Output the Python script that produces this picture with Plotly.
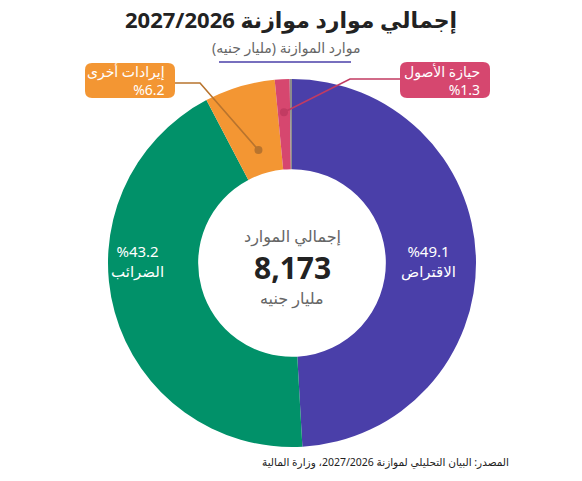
import math
import plotly.graph_objects as go

# data
labels = ["الاقتراض", "الضرائب", "إيرادات أخرى", "حيازة الأصول", "أخرى"]
shares = [49.1, 43.2, 6.2, 1.3, 0.2]
colors = ["#4a3fa9", "#019169", "#f39633", "#d6476f", "#8c8c8c"]
line_colors = ["#4a3fa9", "#019169", "#b8742e", "#c23b62", "#8c8c8c"]
total_label = "إجمالي الموارد"
total_value = "8,173"
total_unit = "مليار جنيه"
title = "إجمالي موارد موازنة 2027/2026"
subtitle = "موارد الموازنة (مليار جنيه)"
source = "المصدر: البيان التحليلي لموازنة 2027/2026، وزارة المالية"

W, H = 582, 481
cx, cy, R = 292, 263, 184
FONT = "Noto Sans, DejaVu Sans, sans-serif"


def px(x):
    return x / W


def py(y):
    return 1 - y / H


def slice_point(i, r):
    # point on the mid angle of slice i, r = fraction of outer radius
    tot = sum(shares)
    mid = (sum(shares[:i]) + shares[i] / 2) / tot * 2 * math.pi
    return cx + r * R * math.sin(mid), cy - r * R * math.cos(mid)


def pct(v):
    return "%" + f"{v:.1f}"


fig = go.Figure()
fig.add_trace(go.Pie(
    labels=labels,
    values=shares,
    sort=False,
    direction="clockwise",
    rotation=0,
    hole=0.51,
    marker=dict(colors=colors, line=dict(width=0)),
    textinfo="none",
    hoverinfo="skip",
    showlegend=False,
    domain=dict(x=[px(cx - R), px(cx + R)], y=[py(cy + R), py(cy - R)]),
))

annotations = []
shapes = []

# title + subtitle
annotations.append(dict(x=px(291), y=py(19), text="<b>" + title + "</b>",
                        font=dict(size=22, color="#222", family=FONT)))
annotations.append(dict(x=px(286), y=py(47), text=subtitle,
                        font=dict(size=14, color="#666", family=FONT)))
shapes.append(dict(type="line", x0=px(219), x1=px(351), y0=py(62), y1=py(62),
                   line=dict(color="#4a3fa9", width=1.5)))

# centre
annotations.append(dict(x=px(cx), y=py(236), text=total_label,
                        font=dict(size=16, color="#666", family=FONT)))
annotations.append(dict(x=px(cx), y=py(267), text="<b>" + total_value + "</b>",
                        font=dict(size=30, color="#222", family=FONT)))
annotations.append(dict(x=px(cx), y=py(298), text=total_unit,
                        font=dict(size=16, color="#666", family=FONT)))

# labels inside the big slices
for i, xpos in [(0, 428), (1, 137)]:
    annotations.append(dict(x=px(xpos), y=py(261), text=pct(shares[i]) + "<br>" + labels[i],
                            align="center",
                            font=dict(size=15, color="white", family=FONT)))


def rounded_box(x0, y0, x1, y1, r, color):
    path = (f"M {px(x0 + r)} {py(y0)} L {px(x1 - r)} {py(y0)} "
            f"Q {px(x1)} {py(y0)} {px(x1)} {py(y0 + r)} L {px(x1)} {py(y1 - r)} "
            f"Q {px(x1)} {py(y1)} {px(x1 - r)} {py(y1)} L {px(x0 + r)} {py(y1)} "
            f"Q {px(x0)} {py(y1)} {px(x0)} {py(y1 - r)} L {px(x0)} {py(y0 + r)} "
            f"Q {px(x0)} {py(y0)} {px(x0 + r)} {py(y0)} Z")
    return dict(type="path", path=path, fillcolor=color, line=dict(width=0), layer="above")


# callouts for the small slices: (slice, box, line start, elbow, radius of dot)
callouts = [
    (2, (85, 63, 175, 98), (175, 83), (200, 83), 0.64),
    (3, (400, 62, 490, 98), (400, 79), (350, 79), 0.82),
]
for i, box, start, elbow, r in callouts:
    dx, dy = slice_point(i, r)
    shapes.append(dict(type="path",
                       path=f"M {px(start[0])} {py(start[1])} L {px(elbow[0])} {py(elbow[1])} L {px(dx)} {py(dy)}",
                       line=dict(color=line_colors[i], width=1.6), layer="above"))
    d = 4
    shapes.append(dict(type="circle", x0=px(dx - d), x1=px(dx + d), y0=py(dy - d), y1=py(dy + d),
                       fillcolor=line_colors[i], line=dict(width=0), layer="above"))
    shapes.append(rounded_box(*box, 7, colors[i]))
    annotations.append(dict(x=px(box[2] - 8), y=py((box[1] + box[3]) / 2), xanchor="right",
                            text=labels[i] + "<br>" + pct(shares[i]), align="right",
                            font=dict(size=14, color="white", family=FONT)))

# source
annotations.append(dict(x=px(511), y=py(462), xanchor="right", text=source,
                        font=dict(size=10.5, color="#222", family=FONT)))

for a in annotations:
    a.setdefault("xref", "paper")
    a.setdefault("yref", "paper")
    a.setdefault("xanchor", "center")
    a.setdefault("yanchor", "middle")
    a.setdefault("showarrow", False)
for s in shapes:
    s.setdefault("xref", "paper")
    s.setdefault("yref", "paper")

fig.update_layout(
    width=W, height=H,
    margin=dict(l=0, r=0, t=0, b=0),
    paper_bgcolor="white",
    plot_bgcolor="white",
    annotations=annotations,
    shapes=shapes,
    font=dict(family=FONT),
)

fig.write_html("out.html", config={"displayModeBar": False},
               post_script="document.body.style.margin='0';")
